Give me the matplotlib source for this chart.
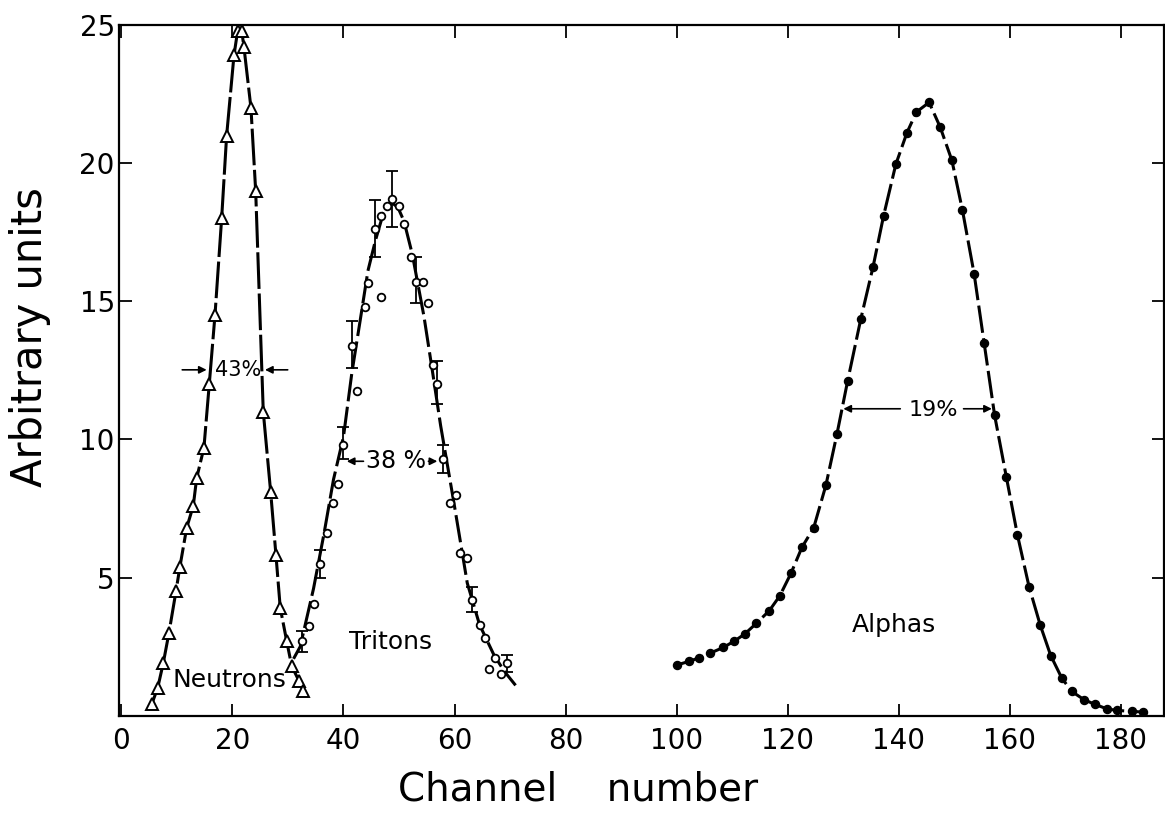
import numpy as np
import matplotlib
matplotlib.use('Agg')
import matplotlib.pyplot as plt

plt.rcParams['font.family'] = ['DejaVu Sans']

# neutrons (open triangles)
neutron_ch = [5.44, 6.52, 7.53, 8.56, 9.82, 10.54, 11.75, 12.94, 13.55, 14.86,
              15.82, 16.85, 18.05, 18.95, 20.27, 20.94, 21.66, 22.07, 23.33, 24.18,
              25.55, 26.88, 27.84, 28.61, 29.77, 30.67, 31.98, 32.76]
neutron_val = [0.41, 1.0, 1.9, 3.0, 4.5, 5.4, 6.8, 7.6, 8.6, 9.7,
               12.0, 14.5, 18.0, 21.0, 23.9, 24.8, 24.8, 24.2, 22.0, 19.0,
               11.0, 8.1, 5.8, 3.9, 2.7, 1.8, 1.26, 0.88]

# tritons (open circles), with error bars where lo/hi > 0
triton_ch = [32.5, 33.8, 34.7, 35.8, 37.0, 38.2, 39.1, 40.0, 41.5, 42.4,
             43.8, 44.5, 45.75, 46.8, 46.8, 47.9, 48.8, 50.0, 50.9, 52.1,
             53.0, 54.3, 55.2, 56.1, 56.9, 58.0, 59.1, 60.3, 61.0, 62.3,
             63.1, 64.6, 65.5, 66.2, 67.3, 68.3, 69.4]
triton_val = [2.7, 3.26, 4.05, 5.5, 6.6, 7.7, 8.4, 9.8, 13.4, 11.75,
              14.8, 15.65, 17.6, 15.15, 18.1, 18.45, 18.7, 18.45, 17.8, 16.6,
              15.7, 15.7, 14.95, 12.7, 12.0, 9.3, 7.7, 8.0, 5.9, 5.7,
              4.2, 3.3, 2.8, 1.7, 2.1, 1.5, 1.9]
triton_lo = [0.4, 0, 0, 0.5, 0, 0, 0, 0.5, 0.8, 0,
             0, 0, 1.0, 0, 0, 0, 1.0, 0, 0, 0,
             0.75, 0, 0, 0, 0.7, 0.5, 0, 0, 0, 0,
             0.45, 0, 0, 0, 0, 0, 0.3]
triton_hi = [0.38, 0, 0, 0.5, 0, 0, 0, 0.65, 0.9, 0,
             0, 0, 1.05, 0, 0, 0, 1.0, 0, 0, 0,
             0.9, 0, 0, 0, 0.85, 0.5, 0, 0, 0, 0,
             0.45, 0, 0, 0, 0, 0, 0.3]

# fitted triton curve
triton_fit_ch = [31.0, 32.2, 34.6, 36.5, 38.2, 40.0, 41.5, 43.0, 44.4, 45.75,
                 47.2, 48.5, 49.8, 50.9, 52.4, 54.5, 56.0, 57.5, 59.9, 62.3,
                 64.5, 67.1, 69.0, 71.0]
triton_fit_val = [2.06, 2.5, 4.6, 6.6, 8.55, 10.1, 12.4, 14.3, 16.1, 17.2,
                  18.2, 18.6, 18.4, 17.9, 16.7, 14.45, 12.5, 10.5, 7.7, 4.8,
                  3.3, 2.2, 1.6, 1.1]

# alphas (filled circles)
alpha_ch = [100.1, 102.3, 104.1, 106.0, 108.4, 110.4, 112.3, 114.4, 116.7, 118.6,
            120.6, 122.6, 124.7, 126.9, 128.9, 130.8, 133.2, 135.4, 137.3, 139.5,
            141.5, 143.2, 145.5, 147.5, 149.6, 151.5, 153.6, 155.4, 157.3, 159.4,
            161.4, 163.5, 165.5, 167.4, 169.4, 171.2, 173.4, 175.4, 177.5, 179.4,
            182.0, 184.1]
alpha_val = [1.84, 1.97, 2.1, 2.26, 2.47, 2.7, 2.96, 3.35, 3.8, 4.34,
             5.15, 6.1, 6.8, 8.34, 10.2, 12.1, 14.37, 16.25, 18.1, 19.96,
             21.1, 21.85, 22.2, 21.3, 20.1, 18.3, 16.0, 13.5, 10.87, 8.65,
             6.55, 4.67, 3.29, 2.18, 1.36, 0.88, 0.58, 0.41, 0.25, 0.19,
             0.16, 0.13]

xticks = [0, 20, 40, 60, 80, 100, 120, 140, 160, 180]
yticks = [5, 10, 15, 20, 25]

fig = plt.figure(figsize=(11.65, 8.15), dpi=100)
ax = fig.add_axes([0.1021, 0.1218, 0.897, 0.8475])

dash = (9, 1.8)

ax.plot(neutron_ch, neutron_val, color='k', lw=2.2, dashes=(12, 1.5),
        marker='^', ms=8, mfc='white', mec='k', mew=1.4, zorder=3)

ax.plot(triton_fit_ch, triton_fit_val, color='k', lw=2.2, dashes=dash, zorder=2)
ax.plot(triton_ch, triton_val, ls='none', marker='o', ms=5.5, mfc='white',
        mec='k', mew=1.3, zorder=4)
err = np.array(triton_hi) > 0
ax.errorbar(np.array(triton_ch)[err], np.array(triton_val)[err],
            yerr=[np.array(triton_lo)[err], np.array(triton_hi)[err]],
            fmt='none', ecolor='k', elinewidth=1.3, capsize=4, capthick=1.3, zorder=3)

ax.plot(alpha_ch, alpha_val, color='k', lw=2.2, dashes=dash,
        marker='o', ms=5.8, mfc='k', mec='k', zorder=3)

# resolution markers (FWHM)
arrow = dict(arrowstyle='-|>', color='k', lw=1.2, mutation_scale=11, shrinkA=0, shrinkB=0)
ax.annotate('', xy=(15.35, 12.52), xytext=(10.95, 12.52), arrowprops=arrow)
ax.annotate('', xy=(25.86, 12.52), xytext=(29.95, 12.52), arrowprops=arrow)
ax.text(21.0, 12.52, '43%', ha='center', va='center', fontsize=15)

ax.annotate('', xy=(40.6, 9.21), xytext=(43.6, 9.21), arrowprops=arrow)
ax.annotate('', xy=(56.9, 9.21), xytext=(55.3, 9.21), arrowprops=arrow)
ax.text(49.5, 9.21, '38 %', ha='center', va='center', fontsize=17)

ax.annotate('', xy=(130.05, 11.11), xytext=(140.3, 11.11), arrowprops=arrow)
ax.annotate('', xy=(156.8, 11.11), xytext=(151.7, 11.11), arrowprops=arrow)
ax.text(146.3, 11.05, '19%', ha='center', va='center', fontsize=16)

ax.text(19.4, 1.29, 'Neutrons', ha='center', va='center', fontsize=18)
ax.text(48.4, 2.67, 'Tritons', ha='center', va='center', fontsize=18)
ax.text(139.2, 3.27, 'Alphas', ha='center', va='center', fontsize=18)

ax.set_xlim(-0.45, 187.8)
ax.set_ylim(0, 25)
ax.set_xticks(xticks)
ax.set_yticks(yticks)
ax.tick_params(direction='in', length=9, width=1.3, labelsize=20,
               top=True, right=True, pad=8)
ax.tick_params(axis='y', pad=3)
for s in ax.spines.values():
    s.set_linewidth(1.6)

fig.text(0.026, 0.5865, 'Arbitrary units', rotation=90, ha='center', va='center',
         fontsize=30)
fig.text(0.496, 0.0184, 'Channel    number', ha='center', va='baseline', fontsize=28)

fig.savefig('out.png', dpi=100)
